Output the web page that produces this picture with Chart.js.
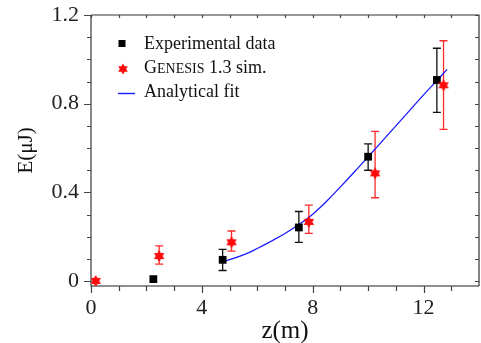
<!DOCTYPE html>
<html><head><meta charset="utf-8">
<script src="https://cdn.jsdelivr.net/npm/chart.js@4/dist/chart.umd.min.js"></script>
<style>html,body{margin:0;padding:0;background:#fff}#wrap{width:481px;height:343px}</style>
</head><body><div id="wrap"><canvas id="c" width="481" height="343"></canvas></div>
<script>
// ---- data ----
const expZ  = [2.25, 4.75, 7.5, 10.0, 12.48];
const expE  = [0.009, 0.096, 0.242, 0.561, 0.907];
const expLo = [null, 0.048, 0.175, 0.500, 0.761];
const expHi = [null, 0.143, 0.314, 0.619, 1.050];

const simZ  = [0.17, 2.46, 5.07, 7.86, 10.25, 12.72];
const simE  = [0.001, 0.113, 0.175, 0.267, 0.486, 0.883];
const simLo = [null, 0.077, 0.135, 0.215, 0.376, 0.684];
const simHi = [null, 0.159, 0.226, 0.343, 0.675, 1.084];

const fitZ = [4.8, 5.5, 6.0, 6.5, 7.0, 7.5, 8.0, 8.5, 9.0, 9.5, 10.0, 10.5, 11.0, 11.5, 12.0, 12.5, 12.85];
const fitE = [0.088, 0.118, 0.147, 0.180, 0.215, 0.255, 0.302, 0.360, 0.425, 0.492, 0.561, 0.630, 0.700, 0.770, 0.840, 0.907, 0.955];

const xMajor = [0, 4, 8, 12];
const xMinor = [1, 2, 3, 5, 6, 7, 9, 10, 11, 13];
const yMajor = [0, 0.4, 0.8, 1.2];
const yMinor = [0.1, 0.2, 0.3, 0.5, 0.6, 0.7, 0.9, 1.0, 1.1];

const legendLabels = ['Experimental data', 'GENESIS 1.3 sim.', 'Analytical fit'];
const xTitle = 'z(m)';
const yTitle = 'E(\u03bcJ)';

const SERIF = '"Liberation Serif", "DejaVu Serif", serif';

function drawStar(ctx, cx, cy, r, color) {
  ctx.save();
  ctx.fillStyle = color;
  ctx.beginPath();
  for (let i = 0; i < 12; i++) {
    const a = -Math.PI / 2 + i * Math.PI / 6;
    const rr = (i % 2 === 0) ? r : r * 0.58;
    const px = cx + rr * Math.cos(a), py = cy + rr * Math.sin(a);
    if (i === 0) ctx.moveTo(px, py); else ctx.lineTo(px, py);
  }
  ctx.closePath();
  ctx.fill();
  ctx.restore();
}
const starImg = document.createElement('canvas');
starImg.width = 14; starImg.height = 14;
drawStar(starImg.getContext('2d'), 7, 7, 6, '#ff0a0a');

const decor = {
  id: 'decor',
  beforeDatasetsDraw(chart) {
    const {ctx, chartArea: a, scales: {x, y}} = chart;
    ctx.save();
    ctx.lineCap = 'butt';
    ctx.strokeStyle = '#6a6a6a';
    ctx.lineWidth = 1.6;
    ctx.beginPath();
    ctx.moveTo(a.left, a.top); ctx.lineTo(a.left, a.bottom); ctx.lineTo(a.right, a.bottom);
    ctx.stroke();
    ctx.strokeStyle = '#333';
    ctx.lineWidth = 1.2;
    ctx.beginPath();
    ctx.moveTo(a.left, a.top); ctx.lineTo(a.right, a.top); ctx.lineTo(a.right, a.bottom);
    ctx.stroke();
    ctx.strokeStyle = '#444';
    ctx.lineWidth = 1.2;
    ctx.beginPath();
    xMajor.concat(xMinor).forEach(v => {
      const px = Math.round(x.getPixelForValue(v)) + 0.5;
      const len = xMajor.includes(v) ? 7 : 5;
      ctx.moveTo(px, a.bottom); ctx.lineTo(px, a.bottom + len);
      ctx.moveTo(px, a.top); ctx.lineTo(px, a.top + 3);
    });
    yMajor.concat(yMinor).forEach(v => {
      const py = Math.round(y.getPixelForValue(v)) + 0.5;
      const len = yMajor.includes(v) ? 7 : 4;
      ctx.moveTo(a.left, py); ctx.lineTo(a.left - len, py);
      ctx.moveTo(a.right, py); ctx.lineTo(a.right - 4, py);
    });
    ctx.stroke();
    function bars(zs, lo, hi, color) {
      ctx.strokeStyle = color;
      ctx.lineWidth = 1.3;
      ctx.beginPath();
      zs.forEach((z, i) => {
        if (lo[i] == null) return;
        const px = x.getPixelForValue(z);
        const p1 = y.getPixelForValue(lo[i]), p2 = y.getPixelForValue(hi[i]);
        ctx.moveTo(px, p1); ctx.lineTo(px, p2);
        ctx.moveTo(px - 4, p1); ctx.lineTo(px + 4, p1);
        ctx.moveTo(px - 4, p2); ctx.lineTo(px + 4, p2);
      });
      ctx.stroke();
    }
    bars(expZ, expLo, expHi, '#111');
    bars(simZ, simLo, simHi, '#ff2a2a');
    ctx.restore();
  },
  afterDraw(chart) {
    const ctx = chart.ctx;
    ctx.save();
    ctx.fillStyle = '#000';
    ctx.fillRect(118.5, 40, 7, 7);
    drawStar(ctx, 123, 69, 5.5, '#ff0a0a');
    ctx.strokeStyle = '#1a1aff';
    ctx.lineWidth = 1.4;
    ctx.beginPath(); ctx.moveTo(118, 93.5); ctx.lineTo(135, 93.5); ctx.stroke();
    ctx.fillStyle = '#111';
    ctx.textBaseline = 'alphabetic';
    ctx.textAlign = 'left';
    ctx.font = '18px ' + SERIF;
    ctx.fillText(legendLabels[0], 144, 49);
    const g = legendLabels[1];
    let xx = 144;
    ctx.fillText(g[0], xx, 73); xx += ctx.measureText(g[0]).width;
    const rest = g.slice(1, 7);
    ctx.font = '14px ' + SERIF;
    ctx.fillText(rest, xx, 73); xx += ctx.measureText(rest).width;
    ctx.font = '18px ' + SERIF;
    ctx.fillText(g.slice(7), xx, 73);
    ctx.fillText(legendLabels[2], 144, 97);
    ctx.restore();
  }
};

new Chart(document.getElementById('c'), {
  type: 'scatter',
  data: {
    datasets: [
      { label: 'Analytical fit', type: 'line', data: fitZ.map((z, i) => ({x: z, y: fitE[i]})),
        borderColor: '#1a1aff', borderWidth: 1.3, pointRadius: 0, fill: false, tension: 0.4, order: 3 },
      { label: 'Experimental data', data: expZ.map((z, i) => ({x: z, y: expE[i]})),
        pointStyle: 'rect', pointRadius: 5.5, backgroundColor: '#000', borderColor: '#000', borderWidth: 0, order: 2 },
      { label: 'GENESIS 1.3 sim.', data: simZ.map((z, i) => ({x: z, y: simE[i]})),
        pointStyle: starImg, pointRadius: 6, backgroundColor: '#f00', borderColor: '#f00', order: 1 }
    ]
  },
  options: {
    responsive: false,
    animation: false,
    devicePixelRatio: 1,
    layout: { autoPadding: false, padding: { top: 15, right: 2, left: 0, bottom: 0 } },
    plugins: { legend: { display: false }, tooltip: { enabled: false } },
    scales: {
      x: {
        type: 'linear', min: 0, max: 14,
        afterBuildTicks: s => { s.ticks = xMajor.map(v => ({value: v})); },
        afterFit: s => { s.height = 57; s.paddingLeft = 0; s.paddingRight = 0; },
        grid: { display: false, drawTicks: false },
        border: { display: false },
        ticks: { padding: 9, color: '#222', font: { family: SERIF, size: 22 }, callback: v => String(v), maxRotation: 0 },
        title: { display: true, text: xTitle, color: '#111', font: { family: SERIF, size: 25 }, padding: { top: 0, bottom: -3 } }
      },
      y: {
        type: 'linear', min: -0.022, max: 1.2,
        afterBuildTicks: s => { s.ticks = yMajor.map(v => ({value: v})); },
        afterFit: s => { s.width = 91; s.paddingTop = 0; s.paddingBottom = 0; },
        grid: { display: false, drawTicks: false },
        border: { display: false },
        ticks: { padding: 12, color: '#222', font: { family: SERIF, size: 22 }, callback: v => (v === 0 ? '0' : v.toFixed(1)) },
        title: { display: true, text: yTitle, color: '#111', font: { family: SERIF, size: 21 }, padding: { top: 14, bottom: 0 } }
      }
    }
  },
  plugins: [decor]
});
</script>
</body></html>
